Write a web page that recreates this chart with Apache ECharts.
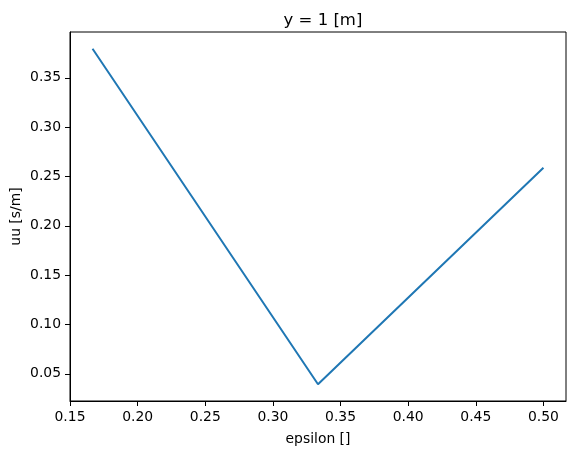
<!DOCTYPE html>
<html>
<head>
<meta charset="utf-8">
<script src="https://cdn.jsdelivr.net/npm/echarts@6/dist/echarts.min.js"></script>
<style>
  html, body { margin: 0; padding: 0; background: #fff; }
  #chart { width: 576px; height: 455px; }
</style>
</head>
<body>
<div id="chart"></div>
<script>
// data
const epsilon = [1 / 6, 1 / 3, 0.5]
const uu = [0.3795, 0.0395, 0.259]
const xTicks = [0.15, 0.20, 0.25, 0.30, 0.35, 0.40, 0.45, 0.50]
const yTicks = [0.05, 0.10, 0.15, 0.20, 0.25, 0.30, 0.35]

const FONT = 'DejaVu Sans'

// matplotlib style 5% margins
const pad = (arr) => {
  const lo = Math.min(...arr), hi = Math.max(...arr)
  const m = (hi - lo) * 0.05
  return [lo - m, hi + m]
}
const [xMin, xMax] = pad(epsilon)
const [yMin, yMax] = pad(uu)

const chart = echarts.init(document.getElementById('chart'), null, { renderer: 'canvas' })

chart.setOption({
  animation: false,
  backgroundColor: '#fff',
  textStyle: { fontFamily: FONT },
  title: {
    text: 'y = 1 [m]',
    left: 318,
    textAlign: 'center',
    top: 7,
    textStyle: { fontFamily: FONT, fontSize: 16.5, fontWeight: 'normal', color: '#000' }
  },
  grid: {
    left: 70, right: 10, top: 32, bottom: 54,
    containLabel: false,
    outerBoundsMode: 'none',
    show: true, borderColor: '#000', borderWidth: 1, backgroundColor: 'transparent'
  },
  xAxis: {
    type: 'value',
    min: xMin,
    max: xMax,
    name: 'epsilon []',
    nameLocation: 'middle',
    nameGap: 31,
    nameMoveOverlap: false,
    nameTextStyle: { fontFamily: FONT, fontSize: 13.9, color: '#000' },
    axisLine: { show: true, onZero: false, lineStyle: { color: '#000', width: 1 } },
    axisTick: { show: true, length: 5, customValues: xTicks, lineStyle: { color: '#000' } },
    axisLabel: {
      customValues: xTicks,
      margin: 9,
      fontFamily: FONT, fontSize: 13.9, color: '#000',
      formatter: v => v.toFixed(2)
    },
    splitLine: { show: false }
  },
  yAxis: {
    type: 'value',
    min: yMin,
    max: yMax,
    name: 'uu [s/m]',
    nameLocation: 'middle',
    nameGap: 47,
    nameMoveOverlap: false,
    nameTextStyle: { fontFamily: FONT, fontSize: 13.9, color: '#000' },
    axisLine: { show: true, onZero: false, lineStyle: { color: '#000', width: 1 } },
    axisTick: { show: true, length: 5, customValues: yTicks, lineStyle: { color: '#000' } },
    axisLabel: {
      customValues: yTicks,
      margin: 9,
      fontFamily: FONT, fontSize: 13.9, color: '#000',
      formatter: v => v.toFixed(2)
    },
    splitLine: { show: false }
  },
  series: [{
    type: 'line',
    data: epsilon.map((x, i) => [x, uu[i]]),
    showSymbol: false,
    lineStyle: { color: '#1f77b4', width: 2 },
    itemStyle: { color: '#1f77b4' }
  }]
})
</script>
</body>
</html>
